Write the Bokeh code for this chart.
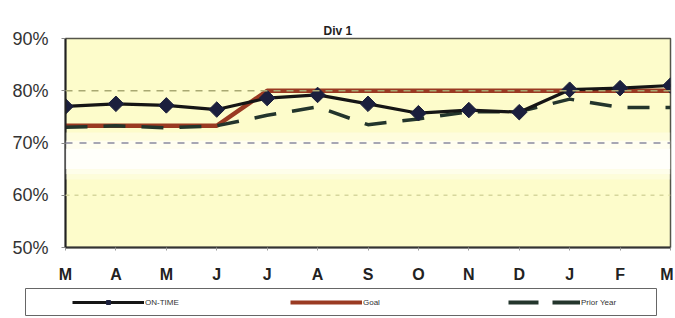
from bokeh.plotting import figure
from bokeh.layouts import column, row
from bokeh.models import (Range1d, FixedTicker, PrintfTickFormatter, Span, BoxAnnotation,
                          Legend, LegendItem)
from bokeh.embed import file_html
from bokeh.resources import INLINE

MONTHS = ["M", "A", "M", "J", "J", "A", "S", "O", "N", "D", "J", "F", "M"]
ON_TIME = [77.0, 77.5, 77.2, 76.4, 78.6, 79.2, 77.5, 75.7, 76.3, 75.9, 80.2, 80.5, 81.0]
GOAL = [73.3, 73.3, 73.3, 73.3, 80.0, 80.0, 80.0, 80.0, 80.0, 80.0, 80.0, 80.0, 80.0]
PRIOR_YEAR = [73.0, 73.3, 72.9, 73.3, 75.3, 76.9, 73.5, 74.6, 76.0, 76.0, 78.4, 76.8, 76.8]
Y_TICKS = [50, 60, 70, 80, 90]
SERIES_NAMES = ["ON-TIME", "Goal", "Prior Year"]
X = list(range(len(MONTHS)))

C_ON, C_ON_M, C_GOAL, C_PRIOR = "#151515", "#1b1f3d", "#9a3a22", "#23352c"
PRIOR_DASH = "22 16"

p = figure(width=673, height=285, output_backend="svg", toolbar_location=None,
           x_range=Range1d(0, 12), y_range=Range1d(50, 90),
           min_border_left=65, min_border_right=3, min_border_top=38, min_border_bottom=35)
p.background_fill_color = "#FDFCCB"
p.border_fill_color = "white"
p.outline_line_color = "#55554a"
p.outline_line_width = 1.5

# pale band behind the 60-70% zone
for lo, hi, a in [(63.0, 64.0, 0.3), (64.0, 65.0, 0.6), (65.0, 69.0, 0.9), (69.0, 70.5, 0.7), (70.5, 72.0, 0.35)]:
    p.add_layout(BoxAnnotation(bottom=lo, top=hi, fill_color="white", fill_alpha=a, line_alpha=0))

p.xgrid.grid_line_color = None
p.ygrid.grid_line_color = None
for v, c, d in [(80, "#a9a973", "7 6"), (70, "#8a8aa0", "7 7"), (60, "#d6d69c", "4 5")]:
    p.add_layout(Span(location=v, dimension="width", line_color=c, line_dash=d, line_width=1.3))

p.title.text = "Div 1"
p.title.align = "left"
p.title.offset = 258
p.title.text_font = "Liberation Sans"
p.title.text_font_size = "12px"
p.title.text_font_style = "bold"
p.title.text_color = "#222222"
p.title.standoff = 1

p.xaxis.ticker = FixedTicker(ticks=X)
p.xaxis.major_label_overrides = {i: m for i, m in enumerate(MONTHS)}
p.xaxis.major_label_text_font = "Liberation Sans"
p.xaxis.major_label_text_font_size = "16px"
p.xaxis.major_label_text_font_style = "bold"
p.xaxis.major_label_text_color = "#222222"
p.xaxis.major_label_standoff = 15
p.xaxis.minor_tick_line_color = None
p.xaxis.major_tick_out = 3
p.xaxis.major_tick_in = 0
p.xaxis.major_tick_line_color = "#999999"
p.xaxis.axis_line_color = "#333333"
p.xaxis.axis_line_width = 2

p.yaxis.ticker = FixedTicker(ticks=Y_TICKS)
p.yaxis.formatter = PrintfTickFormatter(format="%d%%")
p.yaxis.major_label_text_font = "Liberation Sans"
p.yaxis.major_label_text_font_size = "18px"
p.yaxis.major_label_text_color = "#333333"
p.yaxis.major_label_standoff = 13
p.yaxis.minor_tick_line_color = None
p.yaxis.major_tick_out = 4
p.yaxis.major_tick_in = 0
p.yaxis.major_tick_line_color = "#888888"
p.yaxis.axis_line_color = "#222222"
p.yaxis.axis_line_width = 2

p.line(X, GOAL, line_color=C_GOAL, line_width=4.5)
p.line(X, PRIOR_YEAR, line_color=C_PRIOR, line_width=3.5, line_dash=PRIOR_DASH)
p.line(X, ON_TIME, line_color=C_ON, line_width=3.2)
p.scatter(X, ON_TIME, marker="square", angle=45, angle_units="deg", size=11,
          fill_color=C_ON_M, line_color=C_ON_M)

# legend strip under the chart (series drawn again only to supply legend keys; out of view)
lg = figure(width=673, height=31, output_backend="svg", toolbar_location=None,
            x_axis_location=None, y_axis_location=None,
            x_range=Range1d(0, 1), y_range=Range1d(0, 1),
            min_border_left=25, min_border_right=17, min_border_top=3, min_border_bottom=0)
lg.xgrid.grid_line_color = None
lg.ygrid.grid_line_color = None
lg.outline_line_color = "#666666"
lg.outline_line_width = 1
lg.background_fill_color = "white"
l_on = lg.line(X, ON_TIME, line_color=C_ON, line_width=3)
l_on_m = lg.scatter(X, ON_TIME, marker="square", angle=45, angle_units="deg", size=6,
                    fill_color=C_ON_M, line_color=C_ON_M)
l_goal = lg.line(X, GOAL, line_color=C_GOAL, line_width=4)
l_prior = lg.line(X, PRIOR_YEAR, line_color=C_PRIOR, line_width=4, line_dash="30 14")

legend = Legend(items=[
    LegendItem(label=SERIES_NAMES[0], renderers=[l_on, l_on_m]),
    LegendItem(label=SERIES_NAMES[1], renderers=[l_goal]),
    LegendItem(label=SERIES_NAMES[2], renderers=[l_prior]),
], orientation="horizontal", location=(47, 9))
legend.label_text_font = "Liberation Sans"
legend.label_text_font_size = "8px"
legend.label_text_color = "#333333"
legend.glyph_width = 72
legend.glyph_height = 10
legend.label_width = 60
legend.label_height = 10
legend.label_standoff = 1
legend.spacing = 85
legend.padding = 0
legend.margin = 0
legend.border_line_color = None
legend.background_fill_alpha = 0
lg.add_layout(legend, "center")

layout = column(p, row(lg), spacing=0)
open("out.html", "w").write(file_html(layout, INLINE))
